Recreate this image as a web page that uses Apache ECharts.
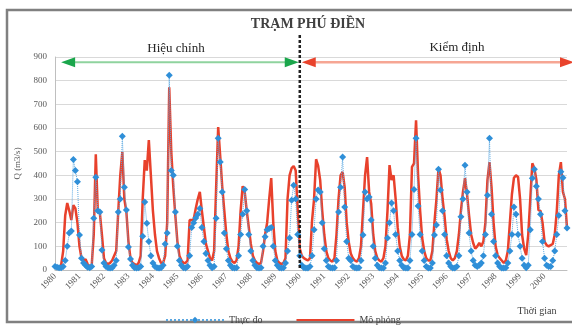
<!DOCTYPE html>
<html><head><meta charset="utf-8">
<script src="https://cdn.jsdelivr.net/npm/echarts@6/dist/echarts.min.js"></script>
<style>html,body{margin:0;padding:0;background:#fff}#c{width:572px;height:327px}</style>
</head><body><div id="c"></div>
<script>
// Years shown on the time axis (monthly data, label at the first month of each year)
const years = [1980,1981,1982,1983,1984,1985,1986,1987,1988,1989,1990,1991,1992,1993,1994,1995,1996,1997,1998,1999,2000];
const yTicks = [0,100,200,300,400,500,600,700,800,900];
const splitIndex = 120; // start of 1990: calibration | validation

// Observed discharge (Thực đo), m3/s, monthly
const observed = [
  15,12,10,10,15,40,100,156,165,467,420,
  373,148,50,30,20,12,10,15,219,392,250,245,
  84,30,15,10,8,10,20,40,245,300,565,350,
  253,97,46,20,10,8,10,15,143,287,198,120,
  60,30,15,10,8,10,20,110,156,823,420,400,
  245,100,40,20,10,8,15,60,180,200,220,236,
  260,180,120,70,40,20,10,15,219,557,456,330,
  156,90,40,20,10,8,10,60,150,236,340,250,
  150,80,40,20,10,8,10,100,140,170,175,180,
  100,40,20,10,8,10,30,80,135,295,358,300,
  150,60,20,10,8,8,15,60,170,300,338,330,
  200,90,40,15,10,8,10,40,245,350,477,266,
  120,50,40,15,10,8,10,40,148,330,300,308,
  211,100,50,20,10,8,8,30,135,200,283,250,
  150,80,40,20,10,8,8,40,150,340,557,270,
  150,80,40,15,8,8,30,148,190,426,338,250,
  150,60,30,15,8,8,15,60,225,300,443,330,
  156,80,40,20,15,20,30,60,150,316,557,236,
  120,60,30,15,8,8,10,30,80,150,266,236,
  150,100,50,20,10,20,170,388,426,354,300,236,
  120,50,20,15,15,40,80,150,230,415,390,250,177
];
// Simulated discharge (Mô phỏng), m3/s, monthly
const simulated = [
  12,10,12,20,80,230,283,250,211,274,260,
  200,100,50,40,45,25,15,20,150,489,245,240,
  150,50,30,25,30,40,60,80,245,400,498,300,
  245,120,50,30,25,20,30,60,300,464,420,549,
  400,250,150,80,50,30,30,60,200,772,500,350,
  230,120,60,40,30,30,40,211,211,215,260,300,
  330,250,180,110,80,50,40,80,350,604,480,350,
  250,150,80,50,35,30,40,100,250,354,330,250,
  180,110,60,40,30,25,30,80,150,200,300,388,
  200,80,40,30,25,30,50,300,400,430,439,420,
  250,90,60,50,45,40,50,207,300,468,440,380,
  250,150,80,50,40,35,50,150,300,400,414,350,
  200,118,70,50,40,35,50,100,250,400,477,330,
  280,150,80,50,40,35,50,100,250,443,380,400,
  300,180,100,60,45,40,60,150,436,450,633,400,
  250,135,80,50,40,40,80,200,300,430,400,300,
  225,130,80,50,40,50,80,150,250,330,388,320,
  230,150,114,90,100,114,100,120,200,380,456,350,
  200,100,63,50,40,30,40,80,200,320,390,400,
  393,300,148,90,63,150,300,451,430,380,253,250,
  200,120,105,100,105,110,150,250,400,456,330,300,177
];

const categories = [];
years.forEach(y => { for (let m = 1; m <= 12; m++) categories.push(y + '-' + m); });

const serif = 'Liberation Serif';
const chart = echarts.init(document.getElementById('c'), null, {renderer: 'canvas'});
chart.setOption({
  animation: false,
  backgroundColor: '#fff',
  grid: {left: 55, right: 5, top: 57, bottom: 57},
  legend: {
    data: ['Thực đo', {name: 'Mô phỏng', itemStyle: {opacity: 0}}],
    left: 160, top: 310,
    itemWidth: 58, itemHeight: 8, itemGap: 33,
    textStyle: {fontFamily: serif, fontSize: 10, color: '#404040'}
  },
  xAxis: {
    type: 'category', data: categories, boundaryGap: false,
    axisLine: {lineStyle: {color: '#bfbfbf'}},
    axisTick: {show: false},
    splitLine: {show: false},
    axisLabel: {
      interval: 11, rotate: 45, margin: 5,
      fontFamily: serif, fontSize: 9, color: '#595959',
      formatter: v => v.split('-')[0]
    }
  },
  yAxis: {
    type: 'value', min: yTicks[0], max: yTicks[yTicks.length - 1], interval: 100,
    name: 'Q (m3/s)', nameLocation: 'middle', nameGap: 33,
    nameTextStyle: {fontFamily: serif, fontSize: 9, color: '#595959'},
    axisLine: {show: true, lineStyle: {color: '#bfbfbf'}},
    axisTick: {show: false},
    splitLine: {lineStyle: {color: '#d9d9d9'}},
    axisLabel: {fontFamily: serif, fontSize: 9, color: '#595959', margin: 8}
  },
  series: [
    {
      name: 'Thực đo', type: 'line', data: observed,
      symbol: 'diamond', symbolSize: 7, showSymbol: true, showAllSymbol: true,
      lineStyle: {type: 'dotted', width: 1, color: '#5aa7e0'},
      itemStyle: {color: '#2f8fd8'}, z: 3
    },
    {
      name: 'Mô phỏng', type: 'line', data: simulated,
      symbol: 'none', showSymbol: false,
      lineStyle: {width: 2.5, color: '#e8412c'},
      itemStyle: {color: '#e8412c'}, z: 2
    }
  ]
});

const px = i => chart.convertToPixel({xAxisIndex: 0, yAxisIndex: 0}, [i, 0])[0];
const py = v => chart.convertToPixel({xAxisIndex: 0, yAxisIndex: 0}, [0, v])[1];
const xs = px(splitIndex), y0 = py(0), ya = py(878);
const gL = px(3), gR = xs - 1, rL = xs + 2, rR = 574;
function head(tipX, dir, color) {
  return {type: 'polygon', shape: {points: [[tipX, ya], [tipX + dir * 14, ya - 5], [tipX + dir * 14, ya + 5]]},
          style: {fill: color}, z: 20};
}
chart.setOption({
  graphic: [
    {type: 'rect', shape: {x: 7, y: 10, width: 590, height: 312}, style: {fill: 'none', stroke: '#808080', lineWidth: 2.5}, z: 1},
    {type: 'text', x: 308, y: 24, style: {text: 'TRẠM PHÚ ĐIỀN', font: 'bold 14px "Liberation Serif"', fill: '#404040', align: 'center', verticalAlign: 'middle'}},
    {type: 'text', x: 176, y: 49, style: {text: 'Hiệu chỉnh', font: '13px "Liberation Serif"', fill: '#262626', align: 'center', verticalAlign: 'middle'}},
    {type: 'text', x: 457, y: 48, style: {text: 'Kiểm định', font: '13px "Liberation Serif"', fill: '#262626', align: 'center', verticalAlign: 'middle'}},
    {type: 'text', x: 537, y: 311, style: {text: 'Thời gian', font: '10px "Liberation Serif"', fill: '#404040', align: 'center', verticalAlign: 'middle'}},
    {type: 'line', shape: {x1: gL + 8, y1: ya, x2: gR - 8, y2: ya}, style: {stroke: '#8fd39e', lineWidth: 2}, z: 19},
    head(gL, 1, '#1aa64b'), head(gR, -1, '#1aa64b'),
    {type: 'line', shape: {x1: rL + 8, y1: ya, x2: rR - 8, y2: ya}, style: {stroke: '#f6a694', lineWidth: 2.5}, z: 19},
    head(rL, 1, '#e9432c'), head(rR, -1, '#e9432c'),
    {type: 'line', shape: {x1: xs, y1: 35, x2: xs, y2: y0}, style: {stroke: '#222', lineWidth: 2.5, lineDash: [3, 2]}, z: 21}
  ]
});
</script>
</body></html>
